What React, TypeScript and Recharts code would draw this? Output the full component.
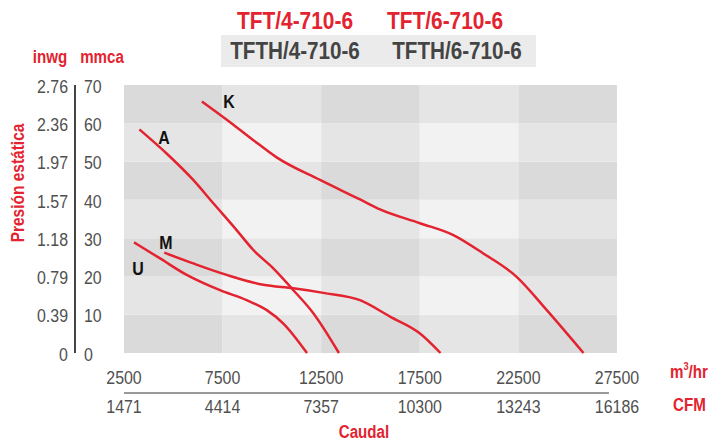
import React from "react";
import { LineChart, Line, XAxis, YAxis, ReferenceArea, ReferenceDot } from "recharts";

const FONT = "'Liberation Sans', Arial, sans-serif";
const RED = "#e3232f";
const TICK = "#505050";
const SQ = 0.84;

// layout of the plot box (px)
const PLOT_LEFT = 124;
const PLOT_TOP = 85;
const PLOT_BOTTOM = 353;

const flowTicks = [2500, 7500, 12500, 17500, 22500, 27500];
const cfmLabels = ["1471", "4414", "7357", "10300", "13243", "16186"];
const mmcaTicks = [0, 10, 20, 30, 40, 50, 60, 70];
const inwgLabels = ["0", "0.39", "0.79", "1.18", "1.57", "1.97", "2.36", "2.76"];

const curveK = [
  { q: 6450, p: 65.7 }, { q: 8030, p: 59.7 }, { q: 9060, p: 55.6 }, { q: 10240, p: 51.1 },
  { q: 12440, p: 45.2 }, { q: 14470, p: 40.1 }, { q: 15480, p: 37.5 }, { q: 17510, p: 33.9 },
  { q: 19200, p: 30.8 }, { q: 20720, p: 26.0 }, { q: 22410, p: 19.9 }, { q: 23940, p: 11.2 },
  { q: 25800, p: 0 },
];
const curveA = [
  { q: 3280, p: 58.4 }, { q: 4660, p: 52.1 }, { q: 6010, p: 45.2 }, { q: 7030, p: 39.1 },
  { q: 8210, p: 32.1 }, { q: 9060, p: 26.9 }, { q: 10070, p: 22.1 }, { q: 11090, p: 16.4 },
  { q: 12100, p: 10.4 }, { q: 13400, p: 0 },
];
const curveM = [
  { q: 4540, p: 26.2 }, { q: 6010, p: 23.4 }, { q: 7710, p: 20.4 }, { q: 9560, p: 17.8 },
  { q: 11090, p: 16.9 }, { q: 12610, p: 15.7 }, { q: 14470, p: 13.8 }, { q: 15990, p: 9.5 },
  { q: 17510, p: 5.1 }, { q: 18550, p: 0 },
];
const curveU = [
  { q: 3010, p: 28.9 }, { q: 4330, p: 24.7 }, { q: 5680, p: 20.4 }, { q: 7370, p: 16.4 },
  { q: 8720, p: 13.8 }, { q: 9740, p: 11.2 }, { q: 10580, p: 7.7 }, { q: 11780, p: 0 },
];
const curves = [curveK, curveA, curveM, curveU];

const curveNames = ["K", "A", "M", "U"];
const nameQ = [7830, 4530, 4630, 3210];
const nameP = [65.8, 56.4, 29.0, 22.2];

function cellFill(col: number, row: number) {
  const dark = (col % 2 === 0 ? 1 : 0) + (row % 2 === 0 ? 1 : 0);
  return dark === 2 ? "#dadada" : dark === 1 ? "#e5e5e5" : "#f2f2f2";
}

const SText = ({ x, y, anchor, children, fill = TICK, size = 19, weight = 400 }: any) => (
  <text
    transform={`translate(${x} ${y}) scale(${SQ} 1)`}
    textAnchor={anchor}
    dy="0.35em"
    fill={fill}
    fontSize={size}
    fontWeight={weight}
    fontFamily={FONT}
  >
    {children}
  </text>
);

// m3/hr row and CFM row under the plot
const FlowTick = (props: any) => {
  const { x, payload } = props;
  return (
    <g>
      <SText x={x} y={PLOT_BOTTOM + 24} anchor="middle">{payload.value}</SText>
      <SText x={x} y={PLOT_BOTTOM + 53} anchor="middle">{cfmLabels[flowTicks.indexOf(payload.value)]}</SText>
    </g>
  );
};

// inwg column left of the rule, mmca column right of it
const PressTick = (props: any) => {
  const { y, payload } = props;
  return (
    <g>
      <SText x={68} y={y + 1} anchor="end">{inwgLabels[mmcaTicks.indexOf(payload.value)]}</SText>
      <SText x={84} y={y + 1} anchor="start">{payload.value}</SText>
    </g>
  );
};

const NameLabel = (props: any) => {
  const { viewBox, value } = props;
  const cx = viewBox.x + (viewBox.width || 0) / 2;
  const cy = viewBox.y + (viewBox.height || 0) / 2;
  return <SText x={cx} y={cy} anchor="middle" fill="#111" size={19} weight={700}>{value}</SText>;
};

const Txt = ({ x, y, size = 18, color = RED, scale = 0.84, anchor = "middle", rotate = 0, children }: any) => {
  const tx = anchor === "middle" ? "-50%" : "0";
  return (
    <div
      style={{
        position: "absolute",
        left: x,
        top: y,
        fontFamily: FONT,
        fontWeight: 700,
        fontSize: size,
        color,
        whiteSpace: "nowrap",
        lineHeight: 1,
        transformOrigin: anchor === "middle" ? "center center" : "left center",
        transform: `translate(${tx}, -50%) rotate(${rotate}deg) scaleX(${scale})`,
      }}
    >
      {children}
    </div>
  );
};

export default function App() {
  return (
    <div style={{ position: "absolute", left: 0, top: 0, width: 711, height: 443, background: "#fff", overflow: "hidden" }}>
      <div style={{ position: "absolute", left: 221, top: 35, width: 315, height: 32, background: "#ebebeb" }} />
      <Txt x={295} y={21} size={24} scale={0.87}>TFT/4-710-6</Txt>
      <Txt x={445} y={21} size={24} scale={0.87}>TFT/6-710-6</Txt>
      <Txt x={295} y={51} size={24} scale={0.86} color="#444">TFTH/4-710-6</Txt>
      <Txt x={457} y={51} size={24} scale={0.86} color="#444">TFTH/6-710-6</Txt>
      <Txt x={50} y={57}>inwg</Txt>
      <Txt x={102} y={57}>mmca</Txt>
      <Txt x={18} y={183} rotate={-90} scale={0.86}>Presión estática</Txt>
      <Txt x={670} y={372} anchor="start">
        m<sup style={{ fontSize: 11, verticalAlign: "top", position: "relative", top: -2 }}>3</sup>/hr
      </Txt>
      <Txt x={673} y={405} anchor="start">CFM</Txt>
      <Txt x={364} y={432}>Caudal</Txt>

      {/* rule between inwg and mmca, rule between m3/hr and CFM */}
      <div style={{ position: "absolute", left: 74, top: PLOT_TOP, width: 1.5, height: PLOT_BOTTOM - PLOT_TOP, background: "#444" }} />
      <div style={{ position: "absolute", left: PLOT_LEFT, top: PLOT_BOTTOM + 39, width: 485, height: 2, background: "#9a9a9a" }} />

      <div style={{ position: "absolute", left: 0, top: 0 }}>
        <LineChart width={711} height={443} margin={{ top: PLOT_TOP, right: 94, left: 0, bottom: 0 }}>
          <XAxis
            dataKey="q"
            type="number"
            domain={[2500, 27500]}
            ticks={flowTicks}
            height={443 - PLOT_BOTTOM}
            axisLine={false}
            tickLine={false}
            tickSize={0}
            tick={<FlowTick />}
            interval={0}
          />
          <YAxis
            type="number"
            domain={[0, 70]}
            ticks={mmcaTicks}
            width={PLOT_LEFT}
            axisLine={false}
            tickLine={false}
            tickSize={0}
            tick={<PressTick />}
            interval={0}
          />
          {flowTicks.slice(0, -1).map((x0, i) =>
            mmcaTicks.slice(0, -1).map((y0, j) => (
              <ReferenceArea
                key={`c${i}-${j}`}
                x1={x0}
                x2={flowTicks[i + 1]}
                y1={y0}
                y2={mmcaTicks[j + 1]}
                fill={cellFill(i, j)}
                fillOpacity={1}
                stroke="none"
              />
            ))
          )}
          {curves.map((c, i) => (
            <Line
              key={curveNames[i]}
              data={c}
              dataKey="p"
              type="monotone"
              stroke={RED}
              strokeWidth={2.5}
              dot={false}
              isAnimationActive={false}
            />
          ))}
          {curveNames.map((n, i) => (
            <ReferenceDot
              key={`l${n}`}
              x={nameQ[i]}
              y={nameP[i]}
              r={0}
              fill="none"
              stroke="none"
              label={<NameLabel value={n} />}
            />
          ))}
        </LineChart>
      </div>
    </div>
  );
}
